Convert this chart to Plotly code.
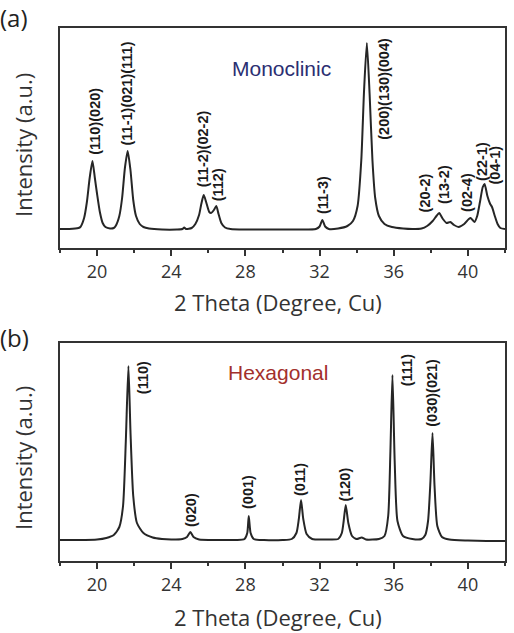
import plotly.graph_objects as go
from plotly.subplots import make_subplots

W, H = 514, 633

# ---------------- data ----------------
mono_2theta = [18.0, 18.5, 19.0, 19.1, 19.3, 19.45, 19.6, 19.75, 19.88, 20.0, 20.15, 20.3, 20.45, 20.7,
               20.9, 21.0, 21.2, 21.35, 21.5, 21.65, 21.8, 21.95, 22.1, 22.3, 22.5, 22.8, 23.5, 24.3,
               24.6, 24.7, 24.8, 25.1, 25.3, 25.5, 25.62, 25.75, 25.88, 26.05, 26.15, 26.3, 26.43, 26.55,
               26.7, 26.9, 27.2, 28.0, 29.0, 30.0, 31.0, 31.8, 32.0, 32.15, 32.3, 32.5, 33.0, 33.5,
               33.8, 34.05, 34.25, 34.4, 34.55, 34.7, 34.85, 35.0, 35.2, 35.5, 35.9, 36.5, 37.0, 37.5,
               37.8, 38.1, 38.3, 38.45, 38.65, 38.85, 39.05, 39.25, 39.5, 39.8, 40.05, 40.15, 40.35,
               40.5, 40.65, 40.8, 40.9, 41.05, 41.2, 41.3, 41.45, 41.6, 41.75, 42.0]
mono_int = [1, 1, 2, 3, 12, 28, 52, 69, 52, 36, 18, 7, 3, 1.5,
            2, 4, 14, 32, 62, 79, 60, 30, 14, 6, 3, 1.5, 0.5, 0.5,
            1, 2.5, 1, 2, 6, 15, 26, 35, 28, 18, 17, 20, 24, 16,
            7, 2.5, 1, 0.5, 0.5, 0.5, 0.5, 1, 3.5, 10, 3.5, 1, 1.5, 4,
            9, 24, 70, 140, 187, 135, 70, 32, 14, 6, 3, 1.5, 1, 1.5,
            4, 9, 14, 17, 11, 7, 8, 5, 3, 6, 11, 12, 8,
            14, 28, 43, 46, 34, 26, 23, 14, 6, 2, 1]

hexa_2theta = [18.0, 19.0, 20.0, 20.5, 20.9, 21.2, 21.4, 21.55, 21.69, 21.8, 21.95, 22.15, 22.5, 23.0,
               23.5, 24.0, 24.6, 24.85, 25.03, 25.2, 25.5, 26.5, 27.5, 27.95, 28.1, 28.18, 28.28, 28.45,
               29.0, 30.0, 30.5, 30.75, 30.88, 31.0, 31.12, 31.3, 31.6, 32.5, 33.0, 33.2, 33.3, 33.41,
               33.55, 33.75, 34.0, 34.27, 34.5, 35.2, 35.5, 35.7, 35.82, 35.93, 36.05, 36.2, 36.5, 37.0,
               37.5, 37.7, 37.85, 37.98, 38.09, 38.2, 38.35, 38.6, 39.0, 40.0, 41.0, 42.0]
hexa_int = [1, 1, 1.5, 3, 6, 14, 35, 100, 175, 110, 45, 18, 8, 3.5,
            2, 1.5, 2, 4, 9, 4, 1.5, 1, 1, 2, 8, 25, 8, 2,
            1, 1, 2, 8, 22, 41, 22, 7, 2, 1.5, 2, 8, 20, 36,
            18, 5, 2, 3.5, 1.5, 2, 5, 25, 90, 166, 80, 20, 5, 2,
            2, 6, 20, 60, 108, 55, 15, 4, 1.5, 0.5, 0, 0]

mono_labels = ["(110)(020)", "(11-1)(021)(111)", "(11-2)(02-2)", "(112)", "(11-3)",
               "(200)(130)(004)", "(20-2)", "(13-2)", "(02-4)", "(22-1)", "(04-1)"]
mono_label_x = [19.85, 21.64, 25.70, 26.51, 32.19, 35.46, 37.68, 38.68, 39.92, 40.73, 41.46]
mono_label_y = [74, 84, 42, 28, 15, 193, 17, 25, 17, 48, 45]
mono_label_anchor = ["bottom", "bottom", "bottom", "bottom", "bottom", "top",
                     "bottom", "bottom", "bottom", "bottom", "bottom"]

hexa_labels = ["(110)", "(020)", "(001)", "(011)", "(120)", "(111)", "(030)(021)"]
hexa_label_x = [22.46, 25.07, 28.14, 30.92, 33.35, 36.73, 38.05]
hexa_label_y = [181, 13, 31, 44, 38, 188, 113]
hexa_label_anchor = ["top", "bottom", "bottom", "bottom", "bottom", "top", "bottom"]

x_ticks = [20, 24, 28, 32, 36, 40]

# ---------------- figure ----------------
fig = make_subplots(rows=2, cols=1)

line_style = dict(color="#262626", width=2, shape="spline", smoothing=0.6)
fig.add_trace(go.Scatter(x=mono_2theta, y=mono_int, mode="lines", line=line_style,
                         showlegend=False), row=1, col=1)
fig.add_trace(go.Scatter(x=hexa_2theta, y=hexa_int, mode="lines", line=line_style,
                         showlegend=False), row=2, col=1)

def px_x(px):
    return px / W

def px_y(py):
    return 1 - py / H

axis_col = "#333333"
xcommon = dict(range=[18, 42], tickvals=x_ticks, ticks="outside", ticklen=6, tickwidth=1.5,
               tickcolor=axis_col, showline=True, linecolor=axis_col, linewidth=2, mirror=True,
               showgrid=False, zeroline=False,
               tickfont=dict(family="Open Sans", size=18, color="#333333"),
               minor=dict(dtick=2, tick0=18, ticks="outside", ticklen=3, tickwidth=1.5,
                          tickcolor=axis_col, showgrid=False),
               domain=[px_x(60), px_x(505)])
ycommon = dict(showticklabels=False, ticks="", showline=True, linecolor=axis_col, linewidth=2,
               mirror=True, showgrid=False, zeroline=False)

fig.update_layout(
    width=W, height=H, margin=dict(l=0, r=0, t=0, b=0),
    paper_bgcolor="white", plot_bgcolor="white",
    xaxis=dict(**xcommon),
    xaxis2=dict(**xcommon),
    yaxis=dict(**ycommon, range=[-18, 202], domain=[px_y(248), px_y(28)]),
    yaxis2=dict(**ycommon, range=[-20, 198], domain=[px_y(561), px_y(343)]),
)

lab_font = dict(family="Liberation Sans, Arial", size=14.5, color="#1a1a1a")
for t, x, y, a in zip(mono_labels, mono_label_x, mono_label_y, mono_label_anchor):
    fig.add_annotation(x=x, y=y, xref="x", yref="y", text="<b>" + t + "</b>", textangle=-90,
                       showarrow=False, xanchor="center", yanchor=a, font=lab_font,
                       borderpad=0)
for t, x, y, a in zip(hexa_labels, hexa_label_x, hexa_label_y, hexa_label_anchor):
    fig.add_annotation(x=x, y=y, xref="x2", yref="y2", text="<b>" + t + "</b>", textangle=-90,
                       showarrow=False, xanchor="center", yanchor=a, font=lab_font,
                       borderpad=0)

# phase names
fig.add_annotation(x=px_x(281), y=px_y(55), xref="paper", yref="paper", text="Monoclinic",
                   showarrow=False, font=dict(family="Liberation Sans, Arial", size=21, color="#2b2f72"))
fig.add_annotation(x=px_x(278), y=px_y(372), xref="paper", yref="paper", text="Hexagonal",
                   showarrow=False, font=dict(family="Liberation Sans, Arial", size=21, color="#a3302c"))

# panel letters
for txt, py in [("(a)", 18), ("(b)", 337)]:
    fig.add_annotation(x=-0.004, y=px_y(py), xref="paper", yref="paper", text=txt, showarrow=False,
                       xanchor="left", yanchor="middle",
                       font=dict(family="Open Sans", size=24, color="#222222"))

# axis titles
for py in [145, 458]:
    fig.add_annotation(x=px_x(23), y=px_y(py), xref="paper", yref="paper", text="Intensity (a.u.)",
                       textangle=-90, showarrow=False, xanchor="center", yanchor="middle",
                       font=dict(family="Open Sans", size=22, color="#333333"))
for py in [302, 617]:
    fig.add_annotation(x=px_x(278), y=px_y(py), xref="paper", yref="paper",
                       text="2 Theta (Degree, Cu)", showarrow=False,
                       xanchor="center", yanchor="middle",
                       font=dict(family="Open Sans", size=22, color="#333333"))

fig.write_html("out.html")
